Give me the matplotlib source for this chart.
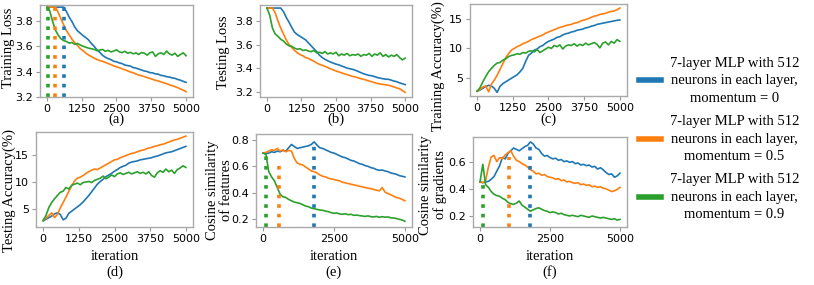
import numpy as np
import matplotlib
matplotlib.use("Agg")
import matplotlib.pyplot as plt

# iterations (every 100 steps)
iters = np.arange(0, 5001, 100)

# (a) training loss
a_blue = [3.91, 3.91, 3.91, 3.91, 3.91, 3.91, 3.91, 3.875, 3.83, 3.795, 3.752, 3.722, 3.703, 3.684, 3.668, 3.649,
          3.621, 3.598, 3.571, 3.552, 3.528, 3.513, 3.502, 3.494, 3.481, 3.477, 3.468, 3.463, 3.451, 3.447, 3.443,
          3.431, 3.427, 3.419, 3.412, 3.404, 3.400, 3.391, 3.389, 3.381, 3.379, 3.369, 3.366, 3.359, 3.356, 3.349,
          3.346, 3.337, 3.331, 3.322, 3.314]
a_orange = [3.91, 3.91, 3.91, 3.91, 3.87, 3.82, 3.77, 3.725, 3.69, 3.655, 3.63, 3.605, 3.58, 3.565, 3.545, 3.53,
            3.518, 3.505, 3.495, 3.487, 3.48, 3.472, 3.463, 3.455, 3.445, 3.437, 3.43, 3.422, 3.414, 3.405, 3.396,
            3.39, 3.38, 3.372, 3.367, 3.36, 3.352, 3.345, 3.338, 3.33, 3.325, 3.318, 3.31, 3.303, 3.295, 3.288,
            3.28, 3.272, 3.262, 3.252, 3.24]
a_green = [3.91, 3.88, 3.80, 3.73, 3.69, 3.66, 3.645, 3.638, 3.625, 3.63, 3.615, 3.622, 3.61, 3.60, 3.592, 3.585,
           3.58, 3.575, 3.565, 3.57, 3.575, 3.56, 3.568, 3.555, 3.562, 3.572, 3.556, 3.55, 3.56, 3.545, 3.552,
           3.54, 3.548, 3.535, 3.55, 3.545, 3.53, 3.548, 3.555, 3.52, 3.54, 3.548, 3.535, 3.562, 3.54, 3.53,
           3.545, 3.52, 3.535, 3.548, 3.525]

# (b) testing loss
b_blue = [3.91, 3.91, 3.91, 3.91, 3.91, 3.91, 3.88, 3.83, 3.79, 3.745, 3.705, 3.685, 3.67, 3.655, 3.64, 3.615,
          3.59, 3.565, 3.54, 3.51, 3.49, 3.475, 3.462, 3.452, 3.442, 3.434, 3.428, 3.418, 3.41, 3.40, 3.395,
          3.39, 3.382, 3.372, 3.362, 3.352, 3.345, 3.338, 3.335, 3.328, 3.32, 3.315, 3.31, 3.306, 3.305, 3.298,
          3.29, 3.285, 3.275, 3.268, 3.26]
b_orange = [3.91, 3.91, 3.91, 3.87, 3.80, 3.74, 3.69, 3.64, 3.60, 3.575, 3.55, 3.53, 3.515, 3.505, 3.49, 3.482,
            3.47, 3.458, 3.445, 3.432, 3.425, 3.415, 3.405, 3.395, 3.385, 3.376, 3.368, 3.36, 3.352, 3.345, 3.338,
            3.33, 3.325, 3.318, 3.31, 3.305, 3.298, 3.29, 3.284, 3.276, 3.27, 3.265, 3.262, 3.258, 3.255, 3.248,
            3.24, 3.232, 3.225, 3.21, 3.195]
b_green = [3.91, 3.85, 3.74, 3.69, 3.67, 3.645, 3.63, 3.605, 3.59, 3.585, 3.57, 3.56, 3.565, 3.55, 3.555, 3.545,
           3.54, 3.55, 3.53, 3.535, 3.525, 3.54, 3.52, 3.53, 3.52, 3.535, 3.505, 3.52, 3.51, 3.525, 3.505,
           3.515, 3.51, 3.52, 3.50, 3.515, 3.51, 3.525, 3.50, 3.52, 3.51, 3.53, 3.50, 3.515, 3.495, 3.51,
           3.50, 3.515, 3.49, 3.47, 3.485]

# (c) training accuracy
c_blue = [2.7, 2.9, 3.2, 3.5, 3.7, 3.6, 3.2, 2.5, 3.5, 4.0, 4.3, 4.6, 4.9, 5.2, 5.5, 6.0,
          6.6, 7.8, 8.8, 9.2, 9.7, 9.9, 10.3, 10.5, 10.9, 11.2, 11.4, 11.6, 11.9, 12.0, 12.3,
          12.5, 12.6, 12.8, 12.9, 13.1, 13.2, 13.3, 13.5, 13.6, 13.8, 13.9, 14.1, 14.2, 14.3, 14.4,
          14.5, 14.6, 14.7, 14.8, 14.85]
c_orange = [2.7, 3.0, 3.4, 3.6, 2.6, 3.9, 4.6, 5.4, 6.4, 7.4, 8.4, 9.1, 9.7, 10.0, 10.3, 10.5,
            10.8, 11.0, 11.2, 11.5, 11.7, 11.9, 12.1, 12.3, 12.6, 12.8, 13.0, 13.2, 13.4, 13.6, 13.7,
            13.9, 14.0, 14.1, 14.3, 14.4, 14.6, 14.8, 14.9, 15.1, 15.3, 15.5, 15.6, 15.8, 15.9, 16.0,
            16.2, 16.3, 16.4, 16.6, 16.9]
c_green = [2.7, 3.3, 4.3, 5.2, 6.0, 6.6, 7.1, 7.5, 7.6, 8.0, 8.2, 8.6, 8.8, 8.9, 9.1, 9.0,
           9.3, 9.2, 9.5, 9.6, 9.4, 9.8, 9.3, 9.6, 9.9, 10.2, 10.0, 10.5, 10.3, 10.6, 9.9,
           10.4, 10.6, 10.5, 10.8, 10.4, 10.7, 10.5, 10.9, 10.6, 10.8, 11.0, 10.7, 10.1, 10.9, 11.1,
           10.6, 11.2, 10.9, 11.5, 11.2]

# (d) testing accuracy
d_blue = [2.8, 3.1, 3.4, 3.7, 4.1, 4.3, 4.0, 3.0, 3.3, 4.2, 4.6, 5.0, 5.4, 5.8, 6.3, 6.9,
          7.5, 8.2, 8.9, 9.6, 10.1, 10.5, 11.0, 11.3, 11.6, 12.0, 12.3, 12.7, 12.9, 13.1, 13.5,
          13.7, 13.8, 13.9, 14.1, 14.2, 14.3, 14.4, 14.5, 14.7, 14.8, 15.0, 15.2, 15.4, 15.5, 15.6,
          15.8, 16.0, 16.2, 16.4, 16.6]
d_orange = [2.9, 3.3, 3.8, 4.3, 3.4, 4.0, 5.2, 6.2, 7.2, 8.3, 9.3, 10.2, 10.7, 10.9, 11.2, 11.6,
            11.9, 12.2, 12.4, 12.3, 12.6, 12.9, 13.2, 13.5, 13.8, 14.1, 14.2, 14.5, 14.7, 14.9, 15.1,
            15.3, 15.4, 15.6, 15.8, 15.9, 16.1, 16.3, 16.4, 16.6, 16.7, 16.9, 17.0, 17.2, 17.4, 17.6,
            17.8, 17.9, 18.1, 18.3, 18.5]
d_green = [2.9, 3.8, 5.3, 6.2, 6.9, 7.5, 8.1, 8.3, 9.0, 8.7, 9.4, 9.6, 9.8, 9.5, 9.9, 10.0,
           10.1, 9.9, 10.3, 10.5, 10.7, 11.1, 10.6, 10.9, 11.3, 11.0, 11.5, 11.7, 11.4, 11.6, 11.8,
           11.5, 11.7, 11.9, 11.6, 11.8, 11.5, 11.9, 11.2, 10.9, 11.7, 12.1, 11.8, 12.4, 11.9, 12.2,
           11.6, 12.3, 12.6, 13.0, 12.7]

# (e) cosine similarity of features
e_blue = [0.70, 0.695, 0.70, 0.71, 0.705, 0.715, 0.71, 0.72, 0.715, 0.74, 0.765, 0.75, 0.735, 0.74, 0.745, 0.75,
          0.755, 0.765, 0.785, 0.76, 0.74, 0.735, 0.725, 0.715, 0.705, 0.70, 0.69, 0.68, 0.67, 0.665, 0.655,
          0.645, 0.64, 0.63, 0.62, 0.615, 0.605, 0.60, 0.59, 0.585, 0.575, 0.57, 0.572, 0.565, 0.56, 0.55,
          0.545, 0.54, 0.53, 0.525, 0.52]
e_orange = [0.70, 0.705, 0.715, 0.725, 0.72, 0.735, 0.715, 0.725, 0.71, 0.72, 0.715, 0.66, 0.625, 0.615, 0.61, 0.595,
            0.58, 0.565, 0.56, 0.55, 0.535, 0.525, 0.52, 0.51, 0.505, 0.50, 0.495, 0.49, 0.48, 0.475, 0.47,
            0.465, 0.46, 0.455, 0.45, 0.445, 0.44, 0.435, 0.432, 0.425, 0.42, 0.415, 0.44, 0.405, 0.395, 0.385,
            0.375, 0.365, 0.36, 0.35, 0.34]
e_green = [0.70, 0.69, 0.56, 0.52, 0.49, 0.44, 0.39, 0.37, 0.365, 0.35, 0.34, 0.33, 0.325, 0.32, 0.31, 0.30,
           0.295, 0.285, 0.28, 0.275, 0.27, 0.268, 0.262, 0.258, 0.25, 0.245, 0.248, 0.24, 0.238, 0.242, 0.235,
           0.238, 0.23, 0.232, 0.228, 0.225, 0.222, 0.226, 0.22, 0.218, 0.222, 0.215, 0.22, 0.216, 0.218, 0.212,
           0.21, 0.206, 0.20, 0.195, 0.185]

# (f) cosine similarity of gradients
f_blue = [0.45, 0.445, 0.45, 0.455, 0.47, 0.49, 0.53, 0.57, 0.63, 0.62, 0.66, 0.68, 0.70, 0.69, 0.68, 0.695,
          0.71, 0.72, 0.745, 0.73, 0.70, 0.69, 0.66, 0.64, 0.645, 0.63, 0.62, 0.625, 0.61, 0.615, 0.60,
          0.605, 0.595, 0.60, 0.585, 0.59, 0.575, 0.58, 0.57, 0.575, 0.56, 0.565, 0.545, 0.555, 0.54, 0.52,
          0.505, 0.51, 0.485, 0.495, 0.515]
f_orange = [0.45, 0.445, 0.46, 0.56, 0.635, 0.645, 0.60, 0.63, 0.62, 0.65, 0.665, 0.68, 0.64, 0.61, 0.60, 0.585,
            0.575, 0.56, 0.54, 0.53, 0.51, 0.515, 0.50, 0.505, 0.49, 0.485, 0.48, 0.47, 0.475, 0.46, 0.465,
            0.45, 0.455, 0.445, 0.44, 0.445, 0.43, 0.435, 0.425, 0.43, 0.415, 0.42, 0.41, 0.415, 0.405, 0.40,
            0.39, 0.38, 0.385, 0.395, 0.41]
f_green = [0.45, 0.58, 0.43, 0.41, 0.38, 0.36, 0.35, 0.345, 0.33, 0.32, 0.30, 0.29, 0.285, 0.295, 0.31, 0.28,
           0.265, 0.25, 0.235, 0.245, 0.255, 0.26, 0.25, 0.24, 0.235, 0.225, 0.23, 0.225, 0.215, 0.22, 0.21,
           0.205, 0.20, 0.205, 0.20, 0.195, 0.205, 0.20, 0.195, 0.19, 0.20, 0.195, 0.19, 0.185, 0.19, 0.185,
           0.18, 0.175, 0.18, 0.17, 0.175]

# dotted markers (blue, orange, green): iteration and height
a_marks = [600, 300, 50]
a_tops = [3.91, 3.91, 3.91]
e_marks = [1800, 550, 100]
e_tops = [0.785, 0.65, 0.70]
f_marks = [1800, 1030, 110]
f_tops = [0.745, 0.636, 0.47]

labels = ["7-layer MLP with 512\nneurons in each layer,\nmomentum = 0",
          "7-layer MLP with 512\nneurons in each layer,\nmomentum = 0.5",
          "7-layer MLP with 512\nneurons in each layer,\nmomentum = 0.9"]
colors = ["tab:blue", "tab:orange", "tab:green"]

W, H = 814, 285
serif = "Liberation Serif"
fs = 10.5

fig = plt.figure(figsize=(W / 100, H / 100), dpi=100)


def box(l, t, r, b):
    return [l / W, 1 - b / H, (r - l) / W, (b - t) / H]


# lc = centre of the y label in axes fractions
panels = [
    dict(pos=box(40, 5, 193, 97), data=(a_blue, a_orange, a_green), ylim=(3.198, 3.927),
         yticks=[3.2, 3.4, 3.6, 3.8], ylab="Training Loss", lc=(-0.209, 0.53),
         xt=[0, 1250, 2500, 3750, 5000], marks=(a_marks, a_tops), cap="(a)", it=False),
    dict(pos=box(260, 5, 412, 97), data=(b_blue, b_orange, b_green), ylim=(3.155, 3.936),
         yticks=[3.2, 3.4, 3.6, 3.8], ylab="Testing Loss", lc=(-0.237, 0.49),
         xt=[0, 1250, 2500, 3750, 5000], marks=None, cap="(b)", it=False),
    dict(pos=box(470, 4, 627, 96), data=(c_blue, c_orange, c_green), ylim=(1.88, 17.58),
         yticks=[5, 10, 15], ylab="Training Accuracy(%)", lc=(-0.204, 0.33),
         xt=[0, 1250, 2500, 3750, 5000], marks=None, cap="(c)", it=False),
    dict(pos=box(36, 132, 193, 227), data=(d_blue, d_orange, d_green), ylim=(1.67, 19.26),
         yticks=[5, 10, 15], ylab="Testing Accuracy(%)", lc=(-0.172, 0.38),
         xt=[0, 1250, 2500, 3750, 5000], marks=None, cap="(d)", it=True),
    dict(pos=box(256, 134, 412, 227), data=(e_blue, e_orange, e_green), ylim=(0.142, 0.844),
         yticks=[0.2, 0.4, 0.6, 0.8], ylab="Cosine similarity\nof features", lc=(-0.235, 0.40),
         xt=[0, 2500, 5000], marks=(e_marks, e_tops), cap="(e)", it=True),
    dict(pos=box(473, 137, 627, 227), data=(f_blue, f_orange, f_green), ylim=(0.119, 0.781),
         yticks=[0.2, 0.4, 0.6], ylab="Cosine similarity\nof gradients", lc=(-0.262, 0.47),
         xt=[0, 2500, 5000], marks=(f_marks, f_tops), cap="(f)", it=True),
]

lines = []
for p in panels:
    ax = fig.add_axes(p["pos"])
    for ys, c in zip(p["data"], colors):
        ln, = ax.plot(iters, ys, color=c, lw=1.2)
        if len(lines) < 3:
            lines.append(ln)
    if p["marks"] is not None:
        for xm, ym, c in zip(p["marks"][0], p["marks"][1], colors):
            ax.plot([xm, xm], [p["ylim"][0], ym], color=c, ls=":", lw=2.6)
    ax.set_xlim(-250, 5250)
    ax.set_ylim(*p["ylim"])
    ax.set_xticks(p["xt"])
    ax.set_yticks(p["yticks"])
    ax.tick_params(labelsize=8, length=3, width=0.8, color="#999999", pad=2)
    for s in ax.spines.values():
        s.set_color("#aaaaaa")
        s.set_linewidth(1.0)
    ax.set_ylabel(p["ylab"], family=serif, fontsize=fs, linespacing=1.1, va="center")
    ax.yaxis.set_label_coords(*p["lc"])
    cx = ax.get_position().x0 + ax.get_position().width / 2
    if p["it"]:
        ax.set_xlabel("iteration", family=serif, fontsize=fs, labelpad=4)
        fig.text(cx, 1 - 272 / H, p["cap"], family=serif, fontsize=fs, ha="center", va="center")
    else:
        fig.text(cx, 1 - 119 / H, p["cap"], family=serif, fontsize=fs, ha="center", va="center")

# legend: text line spacing is widened after layout, so labelspacing makes room for it
leg = fig.legend(lines, labels, loc="center left", bbox_to_anchor=(639 / W, 1 - 139 / H),
                 frameon=False, prop={"family": serif, "size": fs}, handlelength=1.5,
                 handletextpad=0.6, labelspacing=0.72, borderpad=0, borderaxespad=0)
for t in leg.get_texts():
    t.set_multialignment("center")
    t.set_linespacing(1.45)
for h in leg.get_lines():
    h.set_linewidth(4)

fig.savefig("out.png", dpi=100)
